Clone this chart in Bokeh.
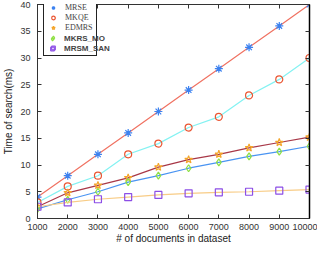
from bokeh.plotting import figure
from bokeh.models import Range1d, LinearAxis, SingleIntervalTicker, Legend, LegendItem, CustomJSTickFormatter
from bokeh.embed import file_html
from bokeh.resources import INLINE

docs = [1000, 2000, 3000, 4000, 5000, 6000, 7000, 8000, 9000, 10000]
mrse = [4, 8, 12, 16, 20, 24, 28, 32, 36, 40]
mkqe = [3, 6, 8, 12, 14, 17, 19, 23, 26, 30]
edmrs = [2.2, 4.8, 6.2, 7.6, 9.6, 11.0, 12.0, 13.2, 14.2, 15.2]
mkrs_mo = [1.8, 3.5, 5.0, 6.8, 8.0, 9.4, 10.5, 11.6, 12.5, 13.5]
mrsm_san = [2.2, 3.0, 3.6, 4.0, 4.4, 4.7, 4.9, 5.0, 5.2, 5.4]

p = figure(width=317, height=246, output_backend="svg", toolbar_location=None,
           x_range=Range1d(1000, 10000), y_range=Range1d(0, 40),
           min_border_left=24, min_border_right=8, min_border_top=0, min_border_bottom=0)
p.xgrid.visible = False
p.ygrid.visible = False
p.outline_line_color = "black"
p.outline_line_width = 1

sans = "Liberation Sans"
for ax in (p.xaxis[0], p.yaxis[0]):
    ax.major_tick_in = 4
    ax.major_tick_out = 0
    ax.minor_tick_line_color = None
    ax.major_label_text_font = sans
    ax.major_label_text_font_size = "9px"
    ax.major_label_text_color = "#333333"
    ax.axis_label_text_font = sans
    ax.axis_label_text_font_size = "10px"
    ax.axis_label_text_font_style = "normal"
    ax.axis_label_text_color = "#222222"
    ax.axis_line_color = "#333333"
    ax.major_tick_line_color = "#333333"
p.xaxis[0].ticker = SingleIntervalTicker(interval=1000)
p.yaxis[0].ticker = SingleIntervalTicker(interval=5)
p.xaxis[0].axis_label = "# of documents in dataset"
p.yaxis[0].axis_label = "Time of search(ms)"
p.xaxis[0].major_label_standoff = 1
p.xaxis[0].axis_label_standoff = 0
p.yaxis[0].major_label_standoff = 3
p.yaxis[0].axis_label_standoff = 3

blank = CustomJSTickFormatter(code="return ''")
top = LinearAxis(ticker=SingleIntervalTicker(interval=1000), formatter=blank,
                 major_tick_in=4, major_tick_out=0, minor_tick_line_color=None,
                 major_label_standoff=0, major_label_text_font_size="1px",
                 axis_line_color="#333333", major_tick_line_color="#333333")
right = LinearAxis(ticker=SingleIntervalTicker(interval=5), formatter=blank,
                   major_tick_in=4, major_tick_out=0, minor_tick_line_color=None,
                   major_label_standoff=0, major_label_text_font_size="1px",
                   axis_line_color="black", axis_line_width=1.5, major_tick_line_color="#333333")
p.add_layout(top, "above")
p.add_layout(right, "right")

series = [
    (mrse, "#f07262", "#3c82f0", "asterisk", "MRSE"),
    (mkqe, "#84f2f2", "#ea5532", "circle", "MKQE"),
    (edmrs, "#a83848", "#f4a52a", "star", "EDMRS"),
    (mkrs_mo, "#4a94f2", "#8ee044", "diamond", "MKRS_MO"),
    (mrsm_san, "#f8cc86", "#8c4ee6", "square", "MRSM_SAN"),
]
rends = []
for ys, lc, mc, mk, name in series:
    p.line(docs, ys, line_color=lc, line_width=1.2)
    sz = 8 if mk in ("asterisk", "star") else 7
    r = p.scatter(docs, ys, marker=mk, size=sz, line_color=mc, fill_color=None, line_width=1.2)
    rends.append(r)

common = dict(label_text_font_size="8px", label_height=9, glyph_height=9, glyph_width=12,
              spacing=1, padding=3, label_standoff=6, margin=0,
              background_fill_alpha=0, border_line_alpha=0)
loc = (6, 162)
leg1 = Legend(items=[LegendItem(label=s[4], renderers=[r]) for s, r in zip(series[:3], rends[:3])]
          + [LegendItem(label=" ", renderers=[r]) for r in rends[3:]],
          location=loc, label_text_font="Liberation Serif",
          **{**common, "border_line_alpha": 1, "border_line_color": "#222222", "background_fill_alpha": 1})
leg2 = Legend(items=[LegendItem(label=s[4], renderers=[r]) for s, r in zip(series[3:], rends[3:])],
          location=loc, label_text_font=sans, label_text_font_style="bold", **common)
p.add_layout(leg1)
p.add_layout(leg2)

open("out.html", "w").write(file_html(p, INLINE))
